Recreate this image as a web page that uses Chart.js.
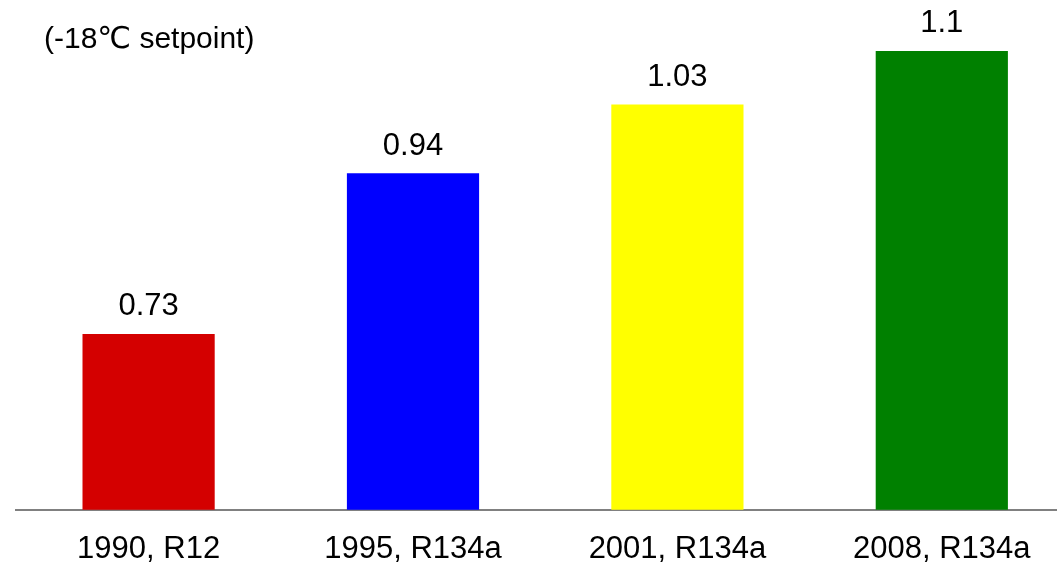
<!DOCTYPE html>
<html>
<head>
<meta charset="utf-8">
<script src="https://cdn.jsdelivr.net/npm/chart.js@4"></script>
<style>
  html, body { margin: 0; padding: 0; background: #ffffff; overflow: hidden; }
  #wrap { width: 1057px; height: 563px; overflow: hidden; position: relative; }
  canvas { display: block; }
</style>
</head>
<body>
<div id="wrap"><canvas id="chart" width="1074" height="589"></canvas></div>
<script>
const categories = ['1990, R12', '1995, R134a', '2001, R134a', '2008, R134a'];
const values = [0.73, 0.94, 1.03, 1.1];
const barColors = ['#D40000', '#0000FF', '#FFFF00', '#008000'];
const noteText = '(-18\u2103 setpoint)';

const FONT = '"Liberation Sans", Arial, "DejaVu Sans", sans-serif';

// Writes each bar's value just above its top edge
const valueLabels = {
  id: 'valueLabels',
  afterDatasetsDraw(chart) {
    const ctx = chart.ctx;
    const meta = chart.getDatasetMeta(0);
    ctx.save();
    ctx.font = '31px ' + FONT;
    ctx.fillStyle = '#000000';
    ctx.textAlign = 'center';
    ctx.textBaseline = 'alphabetic';
    meta.data.forEach((bar, i) => {
      ctx.fillText(String(values[i]), bar.x, bar.y - 18.5);
    });
    ctx.restore();
  }
};

// Setpoint note in the upper left corner
const cornerNote = {
  id: 'cornerNote',
  afterDraw(chart) {
    const ctx = chart.ctx;
    ctx.save();
    ctx.font = '30px ' + FONT;
    ctx.fillStyle = '#000000';
    ctx.textAlign = 'left';
    ctx.textBaseline = 'alphabetic';
    ctx.fillText(noteText, 44, 47.5);
    ctx.restore();
  }
};

new Chart(document.getElementById('chart'), {
  type: 'bar',
  data: {
    labels: categories,
    datasets: [{
      data: values,
      backgroundColor: barColors,
      borderWidth: 0,
      barPercentage: 0.5,
      categoryPercentage: 1.0
    }]
  },
  options: {
    responsive: false,
    devicePixelRatio: 1,
    animation: false,
    layout: { padding: { left: 16.4, right: 0, top: 12.7, bottom: 0 } },
    plugins: {
      legend: { display: false },
      tooltip: { enabled: false },
      title: { display: false }
    },
    scales: {
      x: {
        grid: { display: false, drawTicks: false },
        border: { display: true, color: '#808080', width: 2 },
        ticks: {
          color: '#000000',
          padding: 21,
          maxRotation: 0,
          autoSkip: false,
          font: { family: FONT, size: 31, lineHeight: 1.2 }
        }
      },
      y: {
        display: false,
        min: 0.5,
        max: 1.15
      }
    }
  },
  plugins: [valueLabels, cornerNote]
});
</script>
</body>
</html>
